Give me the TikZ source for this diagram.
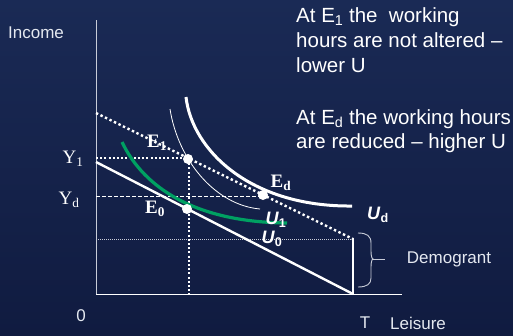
\documentclass[tikz,border=0pt]{standalone}
\usepackage{fontspec}
\setmainfont{Liberation Sans}
\newfontfamily\serifx{Liberation Serif}
\definecolor{bgtop}{HTML}{1A2A55}
\definecolor{bgmid}{HTML}{1F3B73}
\definecolor{bgbot}{HTML}{101B40}
\definecolor{ugreen}{HTML}{00A062}
\definecolor{softw}{HTML}{E4E8F0}
\definecolor{axisgray}{HTML}{C8CCD8}
\begin{document}
\begin{tikzpicture}[x=1pt,y=-1pt,
  dotn/.style={circle,fill=white,inner sep=0pt,minimum size=10pt},
  bigdots/.style={white,line width=2.4pt,dash pattern=on 2.4pt off 2.6pt},
  meddots/.style={white,line width=2pt,dash pattern=on 2pt off 2.2pt},
  dashline/.style={white,line width=1pt,dash pattern=on 3.5pt off 2.5pt},
  finedots/.style={axisgray,line width=1pt,dash pattern=on 1pt off 1pt},
  solidw/.style={white,line width=2.4pt},
  elab/.style={text=white,font=\serifx\bfseries\fontsize{19}{19}\selectfont,inner sep=0pt},
  ylab/.style={text=white,font=\serifx\fontsize{19}{19}\selectfont,inner sep=0pt},
  ulab/.style={text=white,font=\bfseries\fontsize{18}{18}\selectfont,inner sep=0pt},
  axlab/.style={text=softw,font=\fontsize{17}{17}\selectfont,inner sep=0pt},
  bracel/.style={axisgray,line width=0.9pt},
  note/.style={text=white,font=\fontsize{20.5}{20.5}\selectfont,inner sep=0pt,anchor=base west}]
\shade[top color=bgtop,middle color=bgmid,bottom color=bgbot] (0,0) rectangle (513,335);
\useasboundingbox (0,0) rectangle (513,335);
% axes
\coordinate (O) at (96,294);
\coordinate (Ytop) at (96,20);
\coordinate (Xend) at (402,294);
\draw[axisgray,line width=1pt] (O) -- (Ytop);
\draw[white,line width=1pt] (O) -- (Xend);
% key points
\coordinate (A) at (96,162);
\coordinate (T) at (353,294);
\coordinate (B) at (96,113);
\coordinate (D) at (353,239);
\coordinate (DL) at (96,239);
\coordinate (Y1p) at (96,158);
\coordinate (Ydp) at (96,196);
\coordinate (Xv) at (189,294);
% reference lines
\draw[finedots] (DL) -- (D);
\draw[dashline] (Ydp) -- (263,196);
\draw[meddots] (Y1p) -- (189,158);
\draw[meddots] (189,159) -- (Xv);
% budget lines
\draw[solidw] (A) -- (T);
\draw[solidw,line cap=rect] (D) -- (T);
\draw[bigdots] (B) -- (D);
% indifference curves
\draw[white,line width=0.8pt] (170,109) .. controls (178,160) and (215,205) .. (260,209);
\draw[white,line width=3pt] (186,97) .. controls (192,150) and (250,207) .. (352,206);
\draw[ugreen,line width=3.2pt] (122,142) .. controls (140,180) and (185,222) .. (287,223);
% points
\node[dotn] (E1) at (188,159) {};
\node[dotn] (E0) at (187,209) {};
\node[dotn] (Ed) at (263,195) {};
% labels
\node[elab] (lE1) at (157,143) {E\textsubscript{1}};
\node[elab] (lE0) at (155,209) {E\textsubscript{0}};
\node[elab] (lEd) at (281,183) {E\textsubscript{d}};
\node[ulab] (lU1) at (276,220) {\textit{U}\textsubscript{1}};
\node[ulab] (lU0) at (272,239) {\textit{U}\textsubscript{0}};
\node[ulab] (lUd) at (378,215) {\textit{U}\textsubscript{d}};
\node[ylab] (lY1) at (73,159) {Y\textsubscript{1}};
\node[ylab] (lYd) at (69,200) {Y\textsubscript{d}};
\node[axlab] (inc) at (36,33) {Income};
\node[axlab] (zero) at (81,316) {0};
\node[axlab] (lT) at (365,323) {T};
\node[axlab] (leis) at (418,323) {Leisure};
\node[axlab] (demo) at (449,259) {Demogrant};
% brace
\coordinate (br1) at (358,233);
\coordinate (br2) at (358,287);
\coordinate (brm) at (373,259);
\coordinate (brt) at (385,259);
\draw[bracel] (br1) .. controls (367,233) and (371,236) .. (371,243)
  -- (371,251) .. controls (371,256) and (372,259) .. (brm)
  .. controls (372,259) and (371,262) .. (371,267)
  -- (371,278) .. controls (371,284) and (367,287) .. (br2);
\draw[bracel] (brm) -- (brt);
% notes
\node[note] (n1) at (296,22) {At E\textsubscript{1} the\ \ working};
\node[note] (n2) at (296,47) {hours are not altered –};
\node[note] (n3) at (296,72) {lower U};
\node[note] (n4) at (296,124) {At E\textsubscript{d} the working hours};
\node[note] (n5) at (296,148) {are reduced – higher U};
\end{tikzpicture}
\end{document}
